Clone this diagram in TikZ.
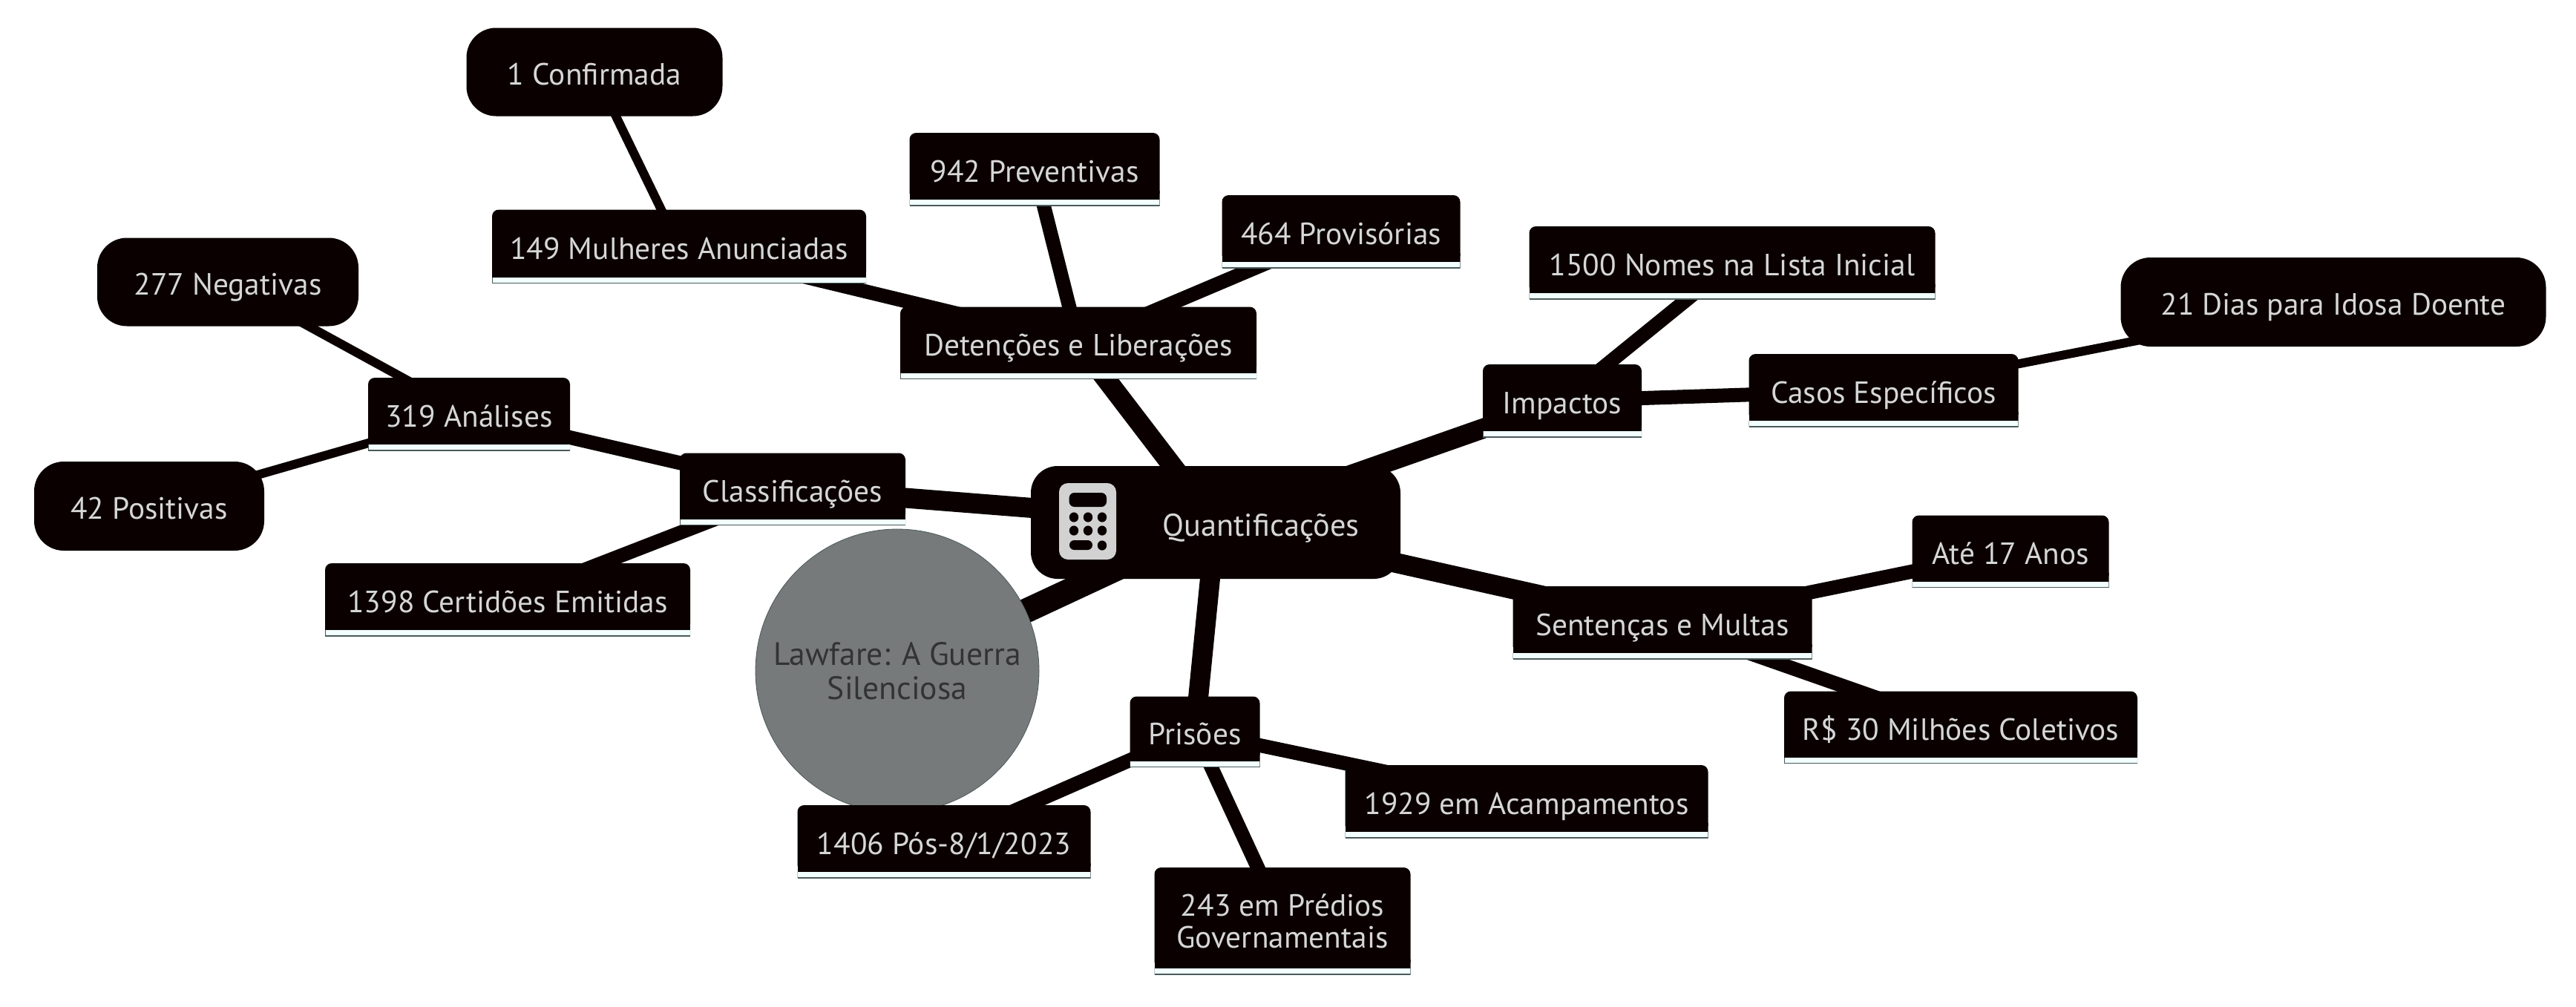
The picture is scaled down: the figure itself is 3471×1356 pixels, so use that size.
\documentclass[tikz,border=0pt]{standalone}
\usepackage{fontspec}
\setmainfont{PT Sans}
\usetikzlibrary{backgrounds,calc}
\definecolor{nodeblack}{HTML}{0A0000}
\definecolor{nodetext}{HTML}{D6D6D6}
\definecolor{stripfill}{HTML}{F2FFFF}
\definecolor{stripline}{HTML}{4A5A5A}
\definecolor{rootgray}{HTML}{777A7A}
\definecolor{roottext}{HTML}{333333}
\definecolor{iconfill}{HTML}{D2D2D2}
\tikzset{
  x=0.5pt,y=-0.5pt,
  sz/.style n args={2}{minimum width=#1*0.5pt,minimum height=#2*0.5pt},
  txt/.style={text=nodetext,font=\fontsize{20.7}{21.5}\selectfont,inner sep=0pt,align=center},
  one/.style={text height=18pt,text depth=1pt},
  plainbox/.style={txt,rectangle,
    path picture={
      \fill[nodeblack,rounded corners=4.5pt]
        ([yshift=8pt]path picture bounding box.south west) --
        (path picture bounding box.north west) --
        (path picture bounding box.north east) --
        ([yshift=8pt]path picture bounding box.south east);
      \fill[nodeblack] ([yshift=4pt]path picture bounding box.south west) rectangle ([yshift=10pt]path picture bounding box.south east);
      \fill[stripfill] ([yshift=0.3pt]path picture bounding box.south west) rectangle ([yshift=4pt]path picture bounding box.south east);
      \draw[stripline,line width=0.8pt] (path picture bounding box.south west) -- (path picture bounding box.south east);
      \draw[stripline,line width=0.5pt] (path picture bounding box.south west) -- ([yshift=4pt]path picture bounding box.south west);
      \draw[stripline,line width=0.5pt] (path picture bounding box.south east) -- ([yshift=4pt]path picture bounding box.south east);
    }},
  cloudbox/.style={txt,one,rectangle,fill=nodeblack,rounded corners=20pt},
  e0/.style={nodeblack,line width=16.5pt},
  e1/.style={nodeblack,line width=13.5pt},
  e2/.style={nodeblack,line width=9.5pt},
  e3/.style={nodeblack,line width=6pt},
}
\begin{document}
\begin{tikzpicture}
\useasboundingbox (0,0) rectangle (3471,1356);
% root
\node[circle,fill=rootgray,draw=stripline,line width=0.4pt,minimum size=191pt,inner sep=0pt,text=roottext,font=\fontsize{21.8}{23}\selectfont,align=center] (root) at (1209,904) {\raisebox{9pt}{\parbox{170pt}{\centering Lawfare: A Guerra\\Silenciosa}}};
% centre
\node[cloudbox,rounded corners=18pt,sz={498}{152}] (q) at (1638,704) {};
\node[txt,one,font=\fontsize{21.2}{21.5}\selectfont] (qt) at (1699,705) {Quantificações};
% level 1
\node[plainbox,txt,one,sz={480}{97}] (det) at (1453,462) {Detenções e Liberações};
\node[plainbox,txt,one,sz={214}{98}] (imp) at (2105,540) {Impactos};
\node[plainbox,txt,one,sz={403}{98}] (sen) at (2240,839) {Sentenças e Multas};
\node[plainbox,txt,one,sz={175}{95}] (pri) at (1610,986) {Prisões};
\node[plainbox,txt,one,sz={304}{97}] (cla) at (1068,659) {Classificações};
% level 2
\node[plainbox,txt,one,sz={504}{99}] (mul) at (915,332) {149 Mulheres Anunciadas};
\node[plainbox,txt,one,sz={337}{98}] (pre) at (1394,228) {942 Preventivas};
\node[plainbox,txt,one,sz={321}{98}] (pro) at (1807,312) {464 Provisórias};
\node[plainbox,txt,one,sz={547}{98}] (nom) at (2334,354) {1500 Nomes na Lista Inicial};
\node[plainbox,txt,one,sz={363}{98}] (cas) at (2538,526) {Casos Específicos};
\node[plainbox,txt,one,sz={265}{97}] (ate) at (2709,743) {Até 17 Anos};
\node[plainbox,txt,one,sz={476}{97}] (mil) at (2642,980) {R\$ 30 Milhões Coletivos};
\node[plainbox,txt,one,sz={489}{98}] (aca) at (2057,1080) {1929 em Acampamentos};
\node[plainbox,txt,sz={345}{144}] (gov) at (1728,1241) {\raisebox{2pt}{\parbox{170pt}{\centering 243 em Prédios\\Governamentais}}};
\node[plainbox,txt,one,sz={395}{98}] (pos) at (1272,1134) {1406 Pós-8/1/2023};
\node[plainbox,txt,one,sz={272}{98}] (ana) at (632,558) {319 Análises};
\node[plainbox,txt,one,sz={492}{98}] (cer) at (684,808) {1398 Certidões Emitidas};
% level 3
\node[cloudbox,sz={345}{119}] (con) at (801,97) {1 Confirmada};
\node[cloudbox,sz={573}{120}] (dia) at (3144,407) {21 Dias para Idosa Doente};
\node[cloudbox,sz={352}{119}] (neg) at (307,380) {277 Negativas};
\node[cloudbox,sz={310}{120}] (pos2) at (201,682) {42 Positivas};
% calculator icon
\fill[iconfill,rounded corners=6pt] (1427,651) rectangle (1504,754);
\fill[nodeblack,rounded corners=3.5pt] (1440.6,664) rectangle (1491,683);
\foreach \yy in {697,715} \foreach \xx in {1447,1466,1485}
  \fill[nodeblack] (\xx,\yy) ellipse [x radius=3.1pt,y radius=3.3pt];
\fill[nodeblack,rounded corners=3.2pt] (1441,728) rectangle (1472,741);
\fill[nodeblack] (1485,735) ellipse [x radius=3.1pt,y radius=3.3pt];
% connectors
\begin{scope}[on background layer]
\draw[e0] (root.center) -- (q.center);
\draw[e1] (q.center) -- (det.center);
\draw[e1] (q.center) -- (imp.center);
\draw[e1] (q.center) -- (sen.center);
\draw[e1] (q.center) -- (pri.center);
\draw[e1] (q.center) -- (cla.center);
\draw[e2] (det.center) -- (mul.center);
\draw[e2] (det.center) -- (pre.center);
\draw[e2] (det.center) -- (pro.center);
\draw[e3] (mul.center) -- (con.center);
\draw[e2] (imp.center) -- (nom.center);
\draw[e2] (imp.center) -- (cas.center);
\draw[e3] (cas.center) -- (dia.center);
\draw[e2] (sen.center) -- (ate.center);
\draw[e2] (sen.center) -- (mil.center);
\draw[e2] (pri.center) -- (aca.center);
\draw[e2] (pri.center) -- (gov.center);
\draw[e2] (pri.center) -- (pos.center);
\draw[e2] (cla.center) -- (ana.center);
\draw[e2] (cla.center) -- (cer.center);
\draw[e3] (ana.center) -- (neg.center);
\draw[e3] (ana.center) -- (pos2.center);
\end{scope}
\end{tikzpicture}
\end{document}
